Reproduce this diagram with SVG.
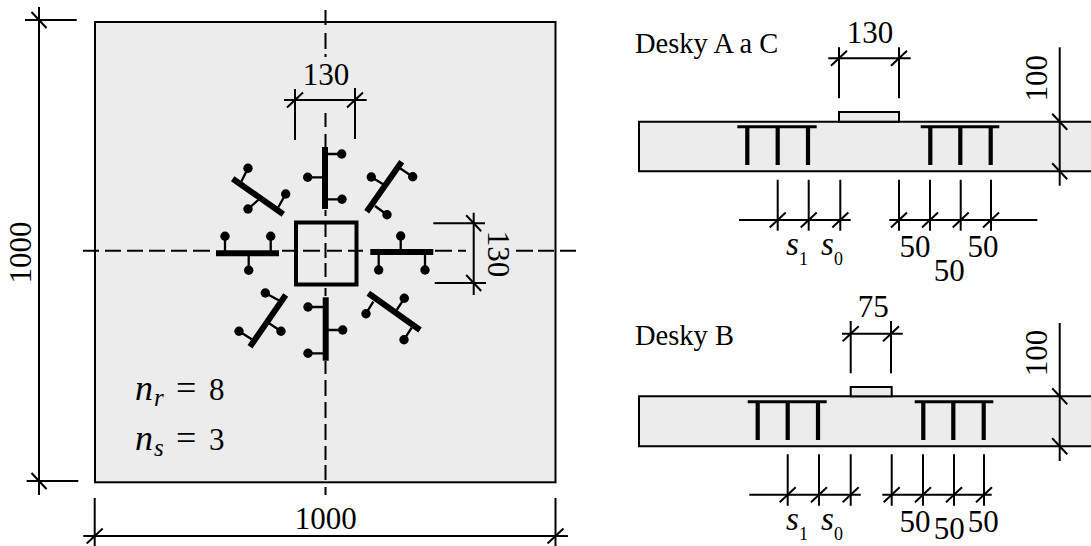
<svg xmlns="http://www.w3.org/2000/svg" xmlns:xlink="http://www.w3.org/1999/xlink" width="1091" height="546" viewBox="0 0 1091 546">
<style>
.o{fill:#ececec;stroke:#000;stroke-width:2}
.d{fill:none;stroke:#000;stroke-width:2}
.a{fill:none;stroke:#000;stroke-width:2}
.b{fill:none;stroke:#000;stroke-width:6}
.f{fill:none;stroke:#000;stroke-width:3}
.s{fill:none;stroke:#000;stroke-width:4.200}
.st{fill:none;stroke:#000;stroke-width:2.300}
.c{fill:#000}
text{font-family:"Liberation Serif",serif;font-size:31px;fill:#000}
.m{text-anchor:middle}
.l{font-size:28.500px}
.i{font-style:italic;font-size:33px}
.n{font-style:italic;font-size:36px}
.q{font-size:36px}
.u{font-size:18px}
.v{font-style:italic;font-size:25px}
</style>
<defs>
<path id="f" class="d" d="M-8 7.500L8-7.500"/>
<path id="k" class="d" d="M-7.500-8L7.500 8"/>
</defs>
<rect width="1091" height="546" fill="#fff"/>
<g id="plate-plan">
<rect class="o" x="95" y="22" width="460.500" height="460.300"/>
</g>
<g id="slab-a">
<path class="o" d="M1091 121.700H639V171.300H1091"/>
<rect class="o" x="839" y="112" width="60" height="9.700"/>
<path class="f" d="M737.300 126.700H816.700M920.700 126.700H999.300"/>
<path class="s" d="M747.300 126.700V165M777.700 126.700V165M808 126.700V165M930.300 126.700V165M960.300 126.700V165M990.700 126.700V165"/>
</g>
<g id="slab-b">
<path class="o" d="M1091 396.300H639V446.300H1091"/>
<rect class="o" x="850.700" y="387" width="41" height="9.300"/>
<path class="f" d="M747.700 401.700H826.700M914.700 401.700H993.300"/>
<path class="s" d="M757.700 401.700V440M787.700 401.700V440M818 401.700V440M923.300 401.700V440M953.300 401.700V440M983.700 401.700V440"/>
</g>
<g id="axes">
<path class="a" d="M325.500 10V25M325.500 33V49M325.500 54V57M325.500 113V127M325.500 134V147M325.500 210V216M325.500 224V237M325.500 243V258M325.500 263V277M325.500 288V296M325.500 361V374M325.500 380V396M325.500 402V418M325.500 424V440M325.500 446V460M325.500 465V480M325.500 487V495"/>
<path class="a" d="M83 250.700H99M105 250.700H121M127 250.700H143M149 250.700H165M171 250.700H187M193 250.700H210M282 250.700H294M303 250.700H320M327 250.700H342M348 250.700H363M435 250.700H452M458 250.700H466M516 250.700H533M538 250.700H554M560 250.700H576"/>
</g>
<g id="column">
<rect x="296" y="222.500" width="60.500" height="62" fill="none" stroke="#000" stroke-width="4"/>
</g>
<g id="rail-n">
<path class="b" d="M325 147V209"/><path class="st" d="M325 154H342M325 177.300H308M325 199.300H342"/>
<circle class="c" cx="341.700" cy="154" r="4.700"/><circle class="c" cx="307.700" cy="177.300" r="4.700"/><circle class="c" cx="342" cy="199.300" r="4.700"/>
</g>
<g id="rail-s">
<path class="b" d="M325.700 297.300V360.700"/><path class="st" d="M325.700 307H308M325.700 330H342.700M325.700 353.300H308"/>
<circle class="c" cx="308" cy="307" r="4.700"/><circle class="c" cx="342.700" cy="330" r="4.700"/><circle class="c" cx="308" cy="353.300" r="4.700"/>
</g>
<g id="rail-w">
<path class="b" d="M216 253.300H279"/><path class="st" d="M225 253.300V236.300M248.700 253.300V270.300M270.700 253.300V236.300"/>
<circle class="c" cx="225" cy="236.300" r="4.700"/><circle class="c" cx="248.700" cy="270.300" r="4.700"/><circle class="c" cx="270.700" cy="236.300" r="4.700"/>
</g>
<g id="rail-e">
<path class="b" d="M370.300 252H433.300"/><path class="st" d="M378.700 252V270M400.700 252V236M425 252V270"/>
<circle class="c" cx="378.700" cy="270" r="4.700"/><circle class="c" cx="400.700" cy="236" r="4.700"/><circle class="c" cx="425" cy="270" r="4.700"/>
</g>
<g id="rail-nw">
<path class="b" d="M232.700 178.700L283.300 214.300"/><path class="st" d="M248 168.300L240.700 182.700M285.700 194L278.300 207.300M248 209L259.300 199"/>
<circle class="c" cx="248" cy="168.300" r="4.700"/><circle class="c" cx="285.700" cy="194" r="4.700"/><circle class="c" cx="248" cy="209" r="4.700"/>
</g>
<g id="rail-ne">
<path class="b" d="M401.700 161.700L366.700 211.700"/><path class="st" d="M412.700 176.700L400 168.300M371.300 177L384.300 185M387 214.700L375 206"/>
<circle class="c" cx="412.700" cy="176.700" r="4.700"/><circle class="c" cx="371.300" cy="177" r="4.700"/><circle class="c" cx="387" cy="214.700" r="4.700"/>
</g>
<g id="rail-sw">
<path class="b" d="M285.700 295L250 346.700"/><path class="st" d="M265.300 293L280 301M281 331.300L268.300 322.700M239 331.300L251.700 339.300"/>
<circle class="c" cx="265.300" cy="293" r="4.700"/><circle class="c" cx="281" cy="331.300" r="4.700"/><circle class="c" cx="239" cy="331.300" r="4.700"/>
</g>
<g id="rail-se">
<path class="b" d="M368.300 293.300L420 330"/><path class="st" d="M404.300 298.300L396.700 310M366 313.700L373.300 301.700M404 339.700L411.700 327.700"/>
<circle class="c" cx="404.300" cy="298.300" r="4.700"/><circle class="c" cx="366" cy="313.700" r="4.700"/><circle class="c" cx="404" cy="339.700" r="4.700"/>
</g>
<g id="dimensions">
<path class="d" d="M25 20H76.700M26.700 481H78.300M39 7V495"/>
<use xlink:href="#k" href="#k" x="39" y="20"/><use xlink:href="#k" href="#k" x="39" y="481"/>
<path class="d" d="M83.300 536H568M94.700 498V546M555.500 498V546"/>
<use xlink:href="#f" href="#f" x="94.700" y="536"/><use xlink:href="#f" href="#f" x="555.500" y="536"/>
<path class="d" d="M284 100H366.700M295 89V140M355 88V139"/>
<use xlink:href="#f" href="#f" x="295" y="100"/><use xlink:href="#f" href="#f" x="355" y="100"/>
<path class="d" d="M473.700 212.700V295M433.300 223.300H485M434.700 283H486"/>
<use xlink:href="#k" href="#k" x="473.700" y="223.300"/><use xlink:href="#k" href="#k" x="473.700" y="283"/>
<path class="d" d="M828.300 58.300H910.700M839 47.300V98.300M899 47.300V98.300"/>
<use xlink:href="#f" href="#f" x="839" y="58.300"/><use xlink:href="#f" href="#f" x="899" y="58.300"/>
<path class="d" d="M1059.700 47.300V185.700"/>
<use xlink:href="#k" href="#k" x="1059.700" y="121.700"/><use xlink:href="#k" href="#k" x="1059.700" y="171.300"/>
<path class="d" d="M739 220H850.700M889.300 220H1037.300M777.700 179.700V230.700M808.700 179.700V230.700M840.300 179.700V230.700M899 179.700V230.700M930 179.700V230.700M960.700 179.700V230.700M991 179.700V230.700"/>
<use xlink:href="#f" href="#f" x="777.700" y="220"/><use xlink:href="#f" href="#f" x="808.700" y="220"/><use xlink:href="#f" href="#f" x="840.300" y="220"/><use xlink:href="#f" href="#f" x="899" y="220"/><use xlink:href="#f" href="#f" x="930" y="220"/><use xlink:href="#f" href="#f" x="960.700" y="220"/><use xlink:href="#f" href="#f" x="991" y="220"/>
<path class="d" d="M842 333.700H902.700M850.700 321V373.300M891 321V373.300"/>
<use xlink:href="#f" href="#f" x="850.700" y="333.700"/><use xlink:href="#f" href="#f" x="891" y="333.700"/>
<path class="d" d="M1059.700 323V461"/>
<use xlink:href="#k" href="#k" x="1059.700" y="396.300"/><use xlink:href="#k" href="#k" x="1059.700" y="446.300"/>
<path class="d" d="M749.300 494.700H860.700M882.300 494.700H991.700M787.700 454.300V505.700M819 454.300V505.700M850.700 454.300V505.700M891.700 454.300V505.700M923 454.300V505.700M954 454.300V505.700M984 454.300V505.700"/>
<use xlink:href="#f" href="#f" x="787.700" y="494.700"/><use xlink:href="#f" href="#f" x="819" y="494.700"/><use xlink:href="#f" href="#f" x="850.700" y="494.700"/><use xlink:href="#f" href="#f" x="891.700" y="494.700"/><use xlink:href="#f" href="#f" x="923" y="494.700"/><use xlink:href="#f" href="#f" x="954" y="494.700"/><use xlink:href="#f" href="#f" x="984" y="494.700"/>
</g>
<g id="labels">
<text class="m" transform="translate(30.700 252.500) rotate(-90)">1000</text>
<text class="m" x="325.700" y="529.300">1000</text>
<text class="m" x="326" y="85">130</text>
<text class="m" transform="translate(488.300 254) rotate(90)">130</text>
<text class="n" x="135" y="400">n</text><text class="v" x="154" y="406">r</text><text class="q" x="176" y="400">=</text><text x="209" y="400">8</text>
<text class="n" x="135" y="450">n</text><text class="v" x="154" y="456">s</text><text class="q" x="176" y="450">=</text><text x="209" y="450">3</text>
<text class="l" x="635" y="53.300">Desky A a C</text>
<text class="m" x="870" y="42.700">130</text>
<text class="m" transform="translate(1046.700 78.300) rotate(-90)">100</text>
<text class="i" x="786" y="255">s</text><text class="u" x="799" y="265">1</text>
<text class="i" x="821" y="255">s</text><text class="u" x="834" y="265">0</text>
<text class="m" x="915" y="257">50</text><text class="m" x="983" y="257">50</text><text class="m" x="949.300" y="280.700">50</text>
<text class="l" x="635" y="345">Desky B</text>
<text class="m" x="873.300" y="316.700">75</text>
<text class="m" transform="translate(1046.700 353) rotate(-90)">100</text>
<text class="i" x="786" y="530">s</text><text class="u" x="799" y="540">1</text>
<text class="i" x="821" y="530">s</text><text class="u" x="834" y="540">0</text>
<text class="m" x="915" y="531.700">50</text><text class="m" x="983.300" y="531.700">50</text><text class="m" x="949.300" y="539">50</text>
</g>
</svg>
